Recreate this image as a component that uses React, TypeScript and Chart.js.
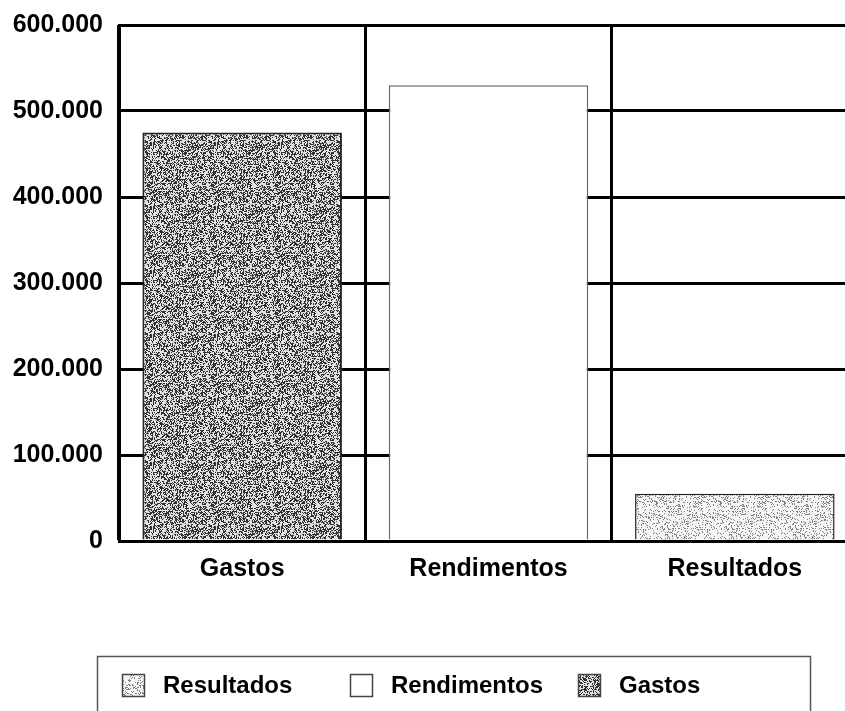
import React, { useEffect, useRef } from "react";
import { Chart, registerables } from "chart.js";

Chart.register(...registerables);

const categories = ["Gastos", "Rendimentos", "Resultados"];
const legendOrder = ["Resultados", "Rendimentos", "Gastos"];
const resultadosValues = [null, null, 55000];
const rendimentosValues = [null, 530000, null];
const gastosValues = [475000, null, null];
const yMin = 0;
const yMax = 600000;
const yStep = 100000;

const FONT = "'Liberation Sans', Arial, sans-serif";

function fmt(v: number): string {
  const s = Math.round(v).toString();
  return s.replace(/\B(?=(\d{3})+(?!\d))/g, ".");
}

function hash(x: number, y: number, seed: number): number {
  let h = Math.imul(x + 1, 374761393) ^ Math.imul(y + 7, 668265263) ^ Math.imul(seed, 1274126177);
  h = Math.imul(h ^ (h >>> 13), 1274126177);
  h = h ^ (h >>> 16);
  return (h >>> 0) / 4294967295;
}

function makeSpeckle(darkProb: number, dark: number, light: number, seed: number): CanvasPattern | string {
  const c = document.createElement("canvas");
  c.width = 64;
  c.height = 64;
  const ctx = c.getContext("2d");
  if (!ctx) return "#888";
  const img = ctx.createImageData(64, 64);
  for (let y = 0; y < 64; y++) {
    for (let x = 0; x < 64; x++) {
      const r = hash(x, y, seed);
      const v = r < darkProb ? dark : light;
      const i = (y * 64 + x) * 4;
      img.data[i] = v;
      img.data[i + 1] = v;
      img.data[i + 2] = v;
      img.data[i + 3] = 255;
    }
  }
  ctx.putImageData(img, 0, 0);
  return ctx.createPattern(c, "repeat") || "#888";
}

export default function App() {
  const ref = useRef<HTMLCanvasElement | null>(null);

  useEffect(() => {
    if (!ref.current) return;
    const gastosFill = makeSpeckle(0.45, 50, 225, 3);
    const resultadosFill = makeSpeckle(0.2, 130, 245, 11);

    const legendPlugin = {
      id: "boxLegend",
      afterDraw(chart: any) {
        const ctx = chart.ctx;
        ctx.save();
        ctx.strokeStyle = "#555";
        ctx.lineWidth = 1.5;
        ctx.strokeRect(97.5, 656.5, 713, 60);
        const cols = [122, 350, 578];
        const ds = chart.data.datasets;
        ds.forEach((d: any, i: number) => {
          const x = cols[i];
          ctx.fillStyle = d.backgroundColor;
          ctx.fillRect(x, 674, 22, 22);
          ctx.strokeStyle = "#444";
          ctx.lineWidth = 1.5;
          ctx.strokeRect(x + 0.5, 674.5, 22, 22);
          ctx.fillStyle = "#000";
          ctx.font = `bold 24px ${FONT}`;
          ctx.textBaseline = "middle";
          ctx.textAlign = "left";
          ctx.fillText(d.label, x + 41, 686);
        });
        ctx.restore();
      },
    };

    const chart = new Chart(ref.current, {
      type: "bar",
      data: {
        labels: categories,
        datasets: [
          {
            label: legendOrder[0],
            data: resultadosValues,
            backgroundColor: resultadosFill as any,
            borderColor: "#222",
            borderWidth: 1.5,
          },
          {
            label: legendOrder[1],
            data: rendimentosValues,
            backgroundColor: "#ffffff",
            borderColor: "#666",
            borderWidth: 1.5,
          },
          {
            label: legendOrder[2],
            data: gastosValues,
            backgroundColor: gastosFill as any,
            borderColor: "#222",
            borderWidth: 2,
          },
        ],
      },
      plugins: [legendPlugin],
      options: {
        responsive: false,
        animation: false,
        layout: { padding: { top: 25, left: 0, right: 12, bottom: 127 } },
        datasets: { bar: { grouped: false, categoryPercentage: 1, barPercentage: 0.81 } } as any,
        plugins: {
          legend: { display: false },
          tooltip: { enabled: false },
        },
        scales: {
          x: {
            offset: true,
            grid: { color: "#000", lineWidth: 3, offset: true, drawTicks: false },
            border: { color: "#000", width: 3 },
            ticks: { color: "#000", font: { family: FONT, size: 25, weight: "bold" }, padding: 13 },
            afterFit: (s: any) => {
              s.height = 43;
              s.paddingLeft = 0;
              s.paddingRight = 0;
            },
          },
          y: {
            min: yMin,
            max: yMax,
            grid: { color: "#000", lineWidth: 3, drawTicks: false },
            border: { color: "#000", width: 3 },
            ticks: {
              stepSize: yStep,
              color: "#000",
              padding: 16,
              font: { family: FONT, size: 25, weight: "bold" },
              callback: (v: any) => fmt(Number(v)),
            },
            afterFit: (s: any) => {
              s.width = 119;
              s.paddingTop = 0;
              s.paddingBottom = 0;
            },
          },
        },
      },
    });
    return () => chart.destroy();
  }, []);

  return (
    <div style={{ position: "absolute", left: 0, top: 0, width: 845, height: 711, overflow: "hidden", background: "#fff" }}>
      <canvas ref={ref} width={870} height={711} style={{ display: "block" }} />
    </div>
  );
}
